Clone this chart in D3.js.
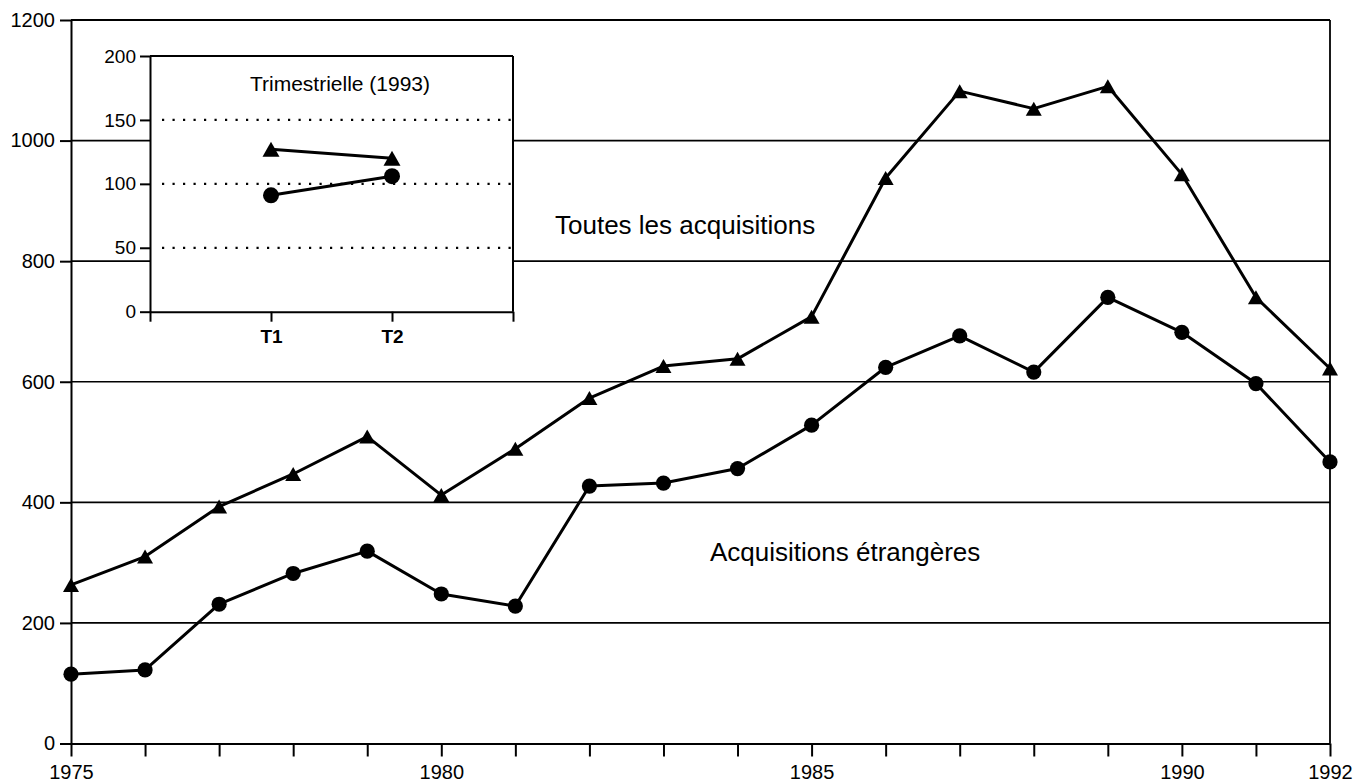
<!DOCTYPE html>
<html>
<head>
<meta charset="utf-8">
<script src="https://cdn.jsdelivr.net/npm/d3@7"></script>
<style>
  html, body { margin: 0; padding: 0; background: #fff; }
  svg { display: block; font-family: "Liberation Sans", Arial, Helvetica, sans-serif; }
</style>
</head>
<body>
<svg id="chart" width="1369" height="783"></svg>
<script>
// ---- Data ----
const years = [1975, 1976, 1977, 1978, 1979, 1980, 1981, 1982, 1983, 1984, 1985, 1986, 1987, 1988, 1989, 1990, 1991, 1992];
const toutesAcquisitions = [263, 310, 393, 447, 509, 412, 489, 573, 626, 638, 708, 938, 1082, 1053, 1090, 944, 740, 622];
const acquisitionsEtrangeres = [115, 122, 231, 282, 319, 248, 228, 427, 432, 456, 528, 624, 676, 616, 740, 682, 597, 467];
const yearLabels = [1975, 1980, 1985, 1990, 1992];
const yTicks = [0, 200, 400, 600, 800, 1000, 1200];
const gridValues = [200, 400, 600, 800, 1000];

const insetCategories = ["T1", "T2"];
const insetToutes = [127, 120];
const insetEtrangeres = [91, 106];
const insetTicks = [0, 50, 100, 150, 200];
const insetGrid = [50, 100, 150];

const labelToutes = "Toutes les acquisitions";
const labelEtrangeres = "Acquisitions étrangères";
const insetTitle = "Trimestrielle (1993)";

// ---- Layout ----
const svg = d3.select("#chart");
const x = d3.scaleLinear().domain([1975, 1992]).range([71, 1330]);
const y = d3.scaleLinear().domain([0, 1200]).range([743.5, 20]);

const tri = (w, h) => `M0,${-h/2}L${w/2},${h/2}L${-w/2},${h/2}Z`;

// Gridlines
svg.append("g").selectAll("line").data(gridValues).join("line")
  .attr("x1", x(1975)).attr("x2", x(1992))
  .attr("y1", d => y(d)).attr("y2", d => y(d))
  .attr("stroke", "#000").attr("stroke-width", 1.6);

// Frame top & right
svg.append("line").attr("x1", x(1975)).attr("x2", x(1992)).attr("y1", y(1200)).attr("y2", y(1200))
  .attr("stroke", "#000").attr("stroke-width", 1.8);
svg.append("line").attr("x1", x(1992)).attr("x2", x(1992)).attr("y1", y(1200)).attr("y2", y(0))
  .attr("stroke", "#000").attr("stroke-width", 1.8);

// Axes
const xAxis = svg.append("g").attr("transform", `translate(0,${y(0)})`)
  .call(d3.axisBottom(x).tickValues(years).tickSize(13).tickSizeOuter(0).tickPadding(8)
    .tickFormat(d => yearLabels.includes(d) ? String(d) : ""));
const yAxis = svg.append("g").attr("transform", `translate(${x(1975)},0)`)
  .call(d3.axisLeft(y).tickValues(yTicks).tickSize(11).tickSizeOuter(0).tickPadding(5)
    .tickFormat(d => String(d)));
[xAxis, yAxis].forEach(g => {
  g.select(".domain").attr("stroke", "#000").attr("stroke-width", 2);
  g.selectAll(".tick line").attr("stroke", "#000").attr("stroke-width", 2);
  g.selectAll(".tick text").attr("fill", "#000").style("font-size", "20px")
    .style("font-family", "'Liberation Sans', Arial, sans-serif");
});

// Lines
const line = d3.line().x(d => x(d[0])).y(d => y(d[1]));
const seriesToutes = years.map((yr, i) => [yr, toutesAcquisitions[i]]);
const seriesEtr = years.map((yr, i) => [yr, acquisitionsEtrangeres[i]]);

svg.append("path").datum(seriesToutes).attr("d", line)
  .attr("fill", "none").attr("stroke", "#000").attr("stroke-width", 3).attr("stroke-linejoin", "round");
svg.append("path").datum(seriesEtr).attr("d", line)
  .attr("fill", "none").attr("stroke", "#000").attr("stroke-width", 3).attr("stroke-linejoin", "round");

svg.append("g").selectAll("path").data(seriesToutes).join("path")
  .attr("transform", d => `translate(${x(d[0])},${y(d[1])})`)
  .attr("d", tri(16, 14)).attr("fill", "#000");
svg.append("g").selectAll("circle").data(seriesEtr).join("circle")
  .attr("cx", d => x(d[0])).attr("cy", d => y(d[1])).attr("r", 7.6).attr("fill", "#000");

// Series labels
svg.append("text").attr("x", 555).attr("y", 234).text(labelToutes)
  .style("font-size", "26px").attr("fill", "#000");
svg.append("text").attr("x", 710).attr("y", 561).text(labelEtrangeres)
  .style("font-size", "26px").attr("fill", "#000");

// ---- Inset ----
const xi = d3.scaleLinear().domain([0, 3]).range([150, 513]);
const yi = d3.scaleLinear().domain([0, 200]).range([311.7, 56]);
const inset = svg.append("g");
inset.append("rect").attr("x", xi(0)).attr("y", yi(200))
  .attr("width", xi(3) - xi(0)).attr("height", yi(0) - yi(200)).attr("fill", "#fff");

inset.append("g").selectAll("line").data(insetGrid).join("line")
  .attr("x1", xi(0) + 12).attr("x2", xi(3) - 2)
  .attr("y1", d => yi(d)).attr("y2", d => yi(d))
  .attr("stroke", "#000").attr("stroke-width", 2.2).attr("stroke-dasharray", "2.2,8.3");

// inset frame top & right
inset.append("line").attr("x1", xi(0)).attr("x2", xi(3)).attr("y1", yi(200)).attr("y2", yi(200))
  .attr("stroke", "#000").attr("stroke-width", 2);
inset.append("line").attr("x1", xi(3)).attr("x2", xi(3)).attr("y1", yi(200)).attr("y2", yi(0))
  .attr("stroke", "#000").attr("stroke-width", 2);

const xiAxis = inset.append("g").attr("transform", `translate(0,${yi(0)})`)
  .call(d3.axisBottom(xi).tickValues([0, 1, 2, 3]).tickSize(10).tickSizeOuter(0).tickPadding(8)
    .tickFormat(d => (d >= 1 && d <= insetCategories.length) ? insetCategories[d - 1] : ""));
const yiAxis = inset.append("g").attr("transform", `translate(${xi(0)},0)`)
  .call(d3.axisLeft(yi).tickValues(insetTicks).tickSize(10).tickSizeOuter(0).tickPadding(4)
    .tickFormat(d => String(d)));
[xiAxis, yiAxis].forEach(g => {
  g.select(".domain").attr("stroke", "#000").attr("stroke-width", 2);
  g.selectAll(".tick line").attr("stroke", "#000").attr("stroke-width", 2);
  g.selectAll(".tick text").attr("fill", "#000").style("font-size", "19px")
    .style("font-family", "'Liberation Sans', Arial, sans-serif");
});
xiAxis.selectAll(".tick text").style("font-weight", "bold");

inset.append("text").attr("x", 340).attr("y", 91).attr("text-anchor", "middle")
  .text(insetTitle).style("font-size", "21px").attr("fill", "#000");

const insetT = insetCategories.map((c, i) => [i + 1, insetToutes[i]]);
const insetE = insetCategories.map((c, i) => [i + 1, insetEtrangeres[i]]);
const lineI = d3.line().x(d => xi(d[0])).y(d => yi(d[1]));
inset.append("path").datum(insetT).attr("d", lineI).attr("fill", "none").attr("stroke", "#000").attr("stroke-width", 3);
inset.append("path").datum(insetE).attr("d", lineI).attr("fill", "none").attr("stroke", "#000").attr("stroke-width", 3);
inset.append("g").selectAll("path").data(insetT).join("path")
  .attr("transform", d => `translate(${xi(d[0])},${yi(d[1])})`)
  .attr("d", tri(17, 15)).attr("fill", "#000");
inset.append("g").selectAll("circle").data(insetE).join("circle")
  .attr("cx", d => xi(d[0])).attr("cy", d => yi(d[1])).attr("r", 8).attr("fill", "#000");
</script>
</body>
</html>
